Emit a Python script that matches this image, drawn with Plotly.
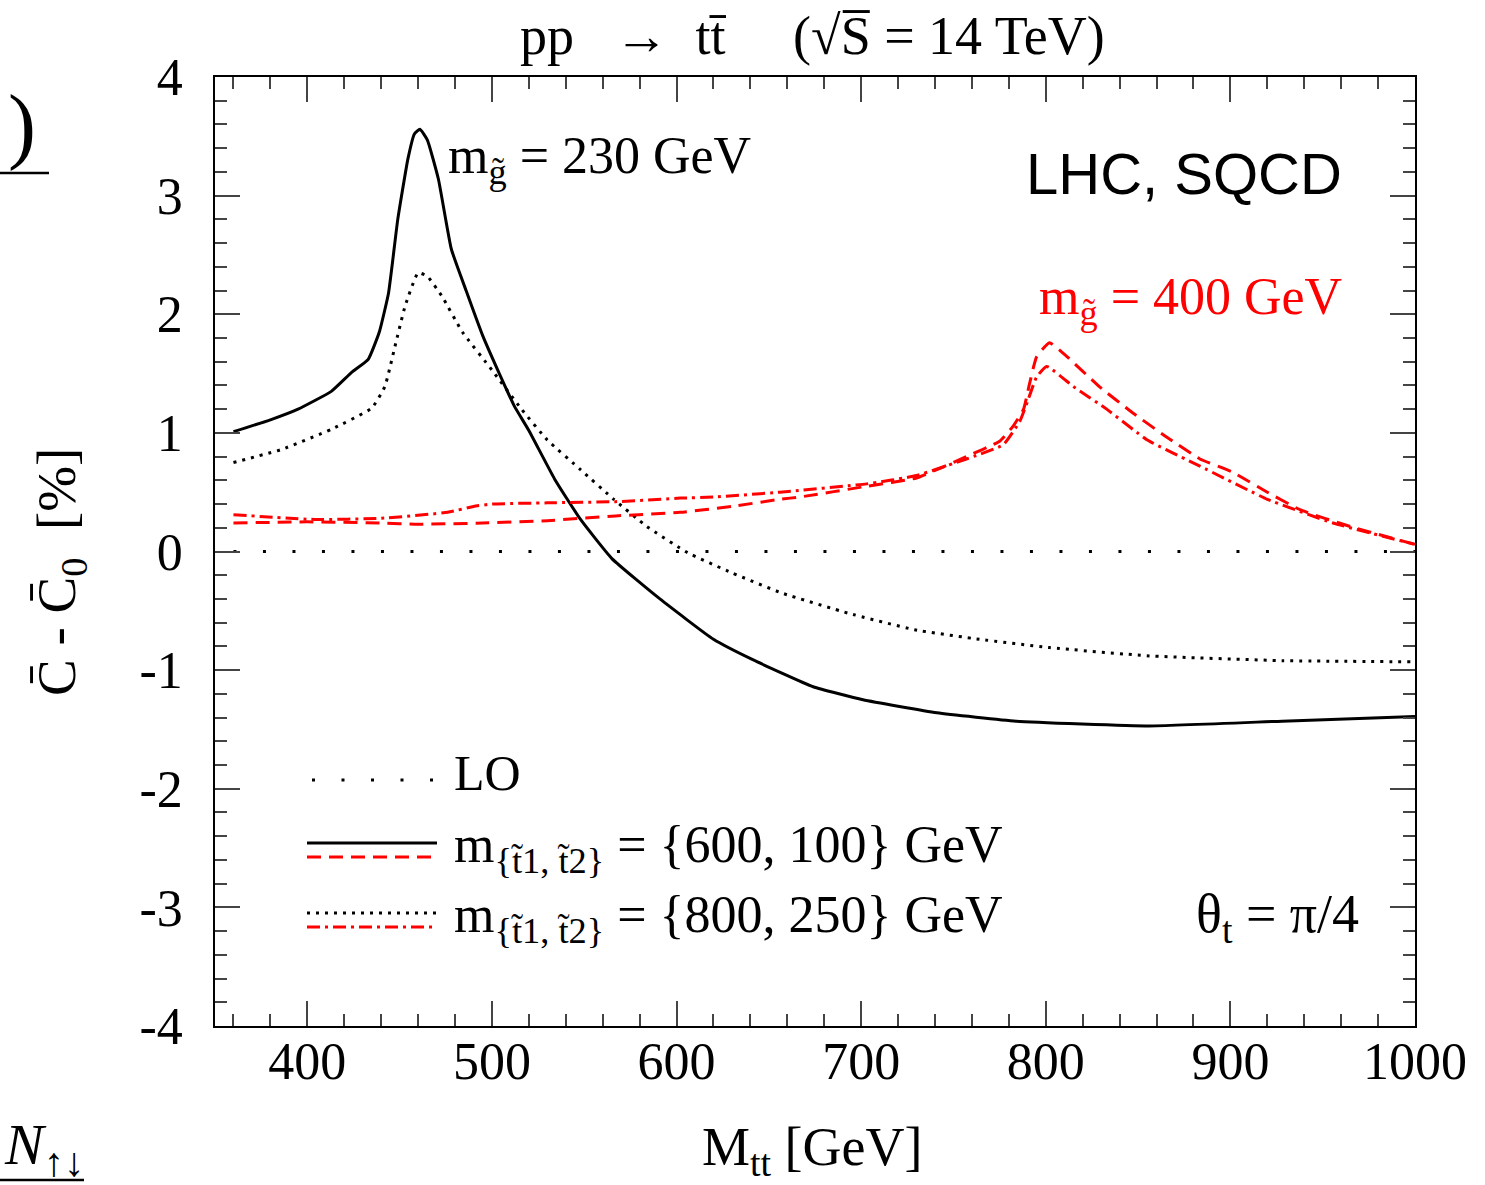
import plotly.graph_objects as go

# ---------------- data ----------------
# LO reference line
lo_x = [360, 1000]
lo_y = [0.0, 0.0]

# m_gluino = 230 GeV, m_stop = {600,100} GeV  (black solid)
g230_a_x = [360, 380, 395, 413, 424, 433, 439, 444, 449, 454.5, 458, 461, 465, 471, 478, 486, 495,
            504, 512, 520, 534, 548, 565, 591, 620, 641, 674, 701, 741, 784, 856, 928, 1000]
g230_a_y = [1.01, 1.11, 1.20, 1.35, 1.51, 1.62, 1.85, 2.18, 2.80, 3.31, 3.52, 3.56, 3.47, 3.14, 2.55, 2.20, 1.82,
            1.50, 1.23, 1.02, 0.61, 0.27, -0.06, -0.40, -0.74, -0.91, -1.14, -1.25, -1.36, -1.43, -1.47, -1.43, -1.39]

# m_gluino = 230 GeV, m_stop = {800,250} GeV  (black dotted)
g230_b_x = [360, 386, 413, 435, 442, 447.5, 453, 460, 465, 473, 484, 500, 516, 530, 548, 566, 584, 606,
            630, 657, 693, 729, 764, 802, 856, 928, 1000]
g230_b_y = [0.75, 0.86, 1.03, 1.21, 1.39, 1.73, 2.07, 2.35, 2.32, 2.15, 1.85, 1.53, 1.20, 0.94, 0.69, 0.44, 0.21, -0.01,
            -0.18, -0.35, -0.52, -0.66, -0.74, -0.81, -0.88, -0.92, -0.93]

# m_gluino = 400 GeV, m_stop = {600,100} GeV  (red dashed)
g400_a_x = [360, 400, 440, 460, 495, 530, 567, 602, 630, 656, 667, 703, 730, 757, 775, 782, 788, 791, 795,
            802, 811, 829, 847, 865, 883.5, 901, 920, 938, 965, 1000]
g400_a_y = [0.24, 0.25, 0.24, 0.23, 0.24, 0.26, 0.30, 0.33, 0.38, 0.44, 0.46, 0.55, 0.62, 0.80, 0.93, 1.05, 1.20, 1.40, 1.64,
            1.76, 1.65, 1.39, 1.17, 0.97, 0.78, 0.67, 0.50, 0.35, 0.21, 0.06]

# m_gluino = 400 GeV, m_stop = {800,250} GeV  (red dash-dot)
g400_b_x = [360, 404, 440, 476, 490, 500, 530, 567, 602, 621, 656, 703, 730, 757, 777, 786, 790, 795, 800.5,
            815, 833, 855, 883.5, 920, 955.6, 1000]
g400_b_y = [0.31, 0.27, 0.28, 0.33, 0.38, 0.40, 0.41, 0.42, 0.45, 0.46, 0.50, 0.57, 0.64, 0.78, 0.90, 1.10, 1.26, 1.47, 1.56,
            1.39, 1.20, 0.94, 0.72, 0.44, 0.24, 0.06]

x_tickvals = [400, 500, 600, 700, 800, 900, 1000]
x_ticktext = ["400", "500", "600", "700", "800", "900", "1000"]
y_tickvals = [-4, -3, -2, -1, 0, 1, 2, 3, 4]
y_ticktext = ["-4", "-3", "-2", "-1", "0", "1", "2", "3", "4"]

# ---------------- styling ----------------
SERIF = "Liberation Serif"
SANS = "Liberation Sans"
RED = "#ff0000"
W = 3

fig = go.Figure()
fig.add_trace(go.Scatter(x=lo_x, y=lo_y, mode="lines",
                         line=dict(color="black", width=3, dash="3px,26.5px")))
fig.add_trace(go.Scatter(x=g230_b_x, y=g230_b_y, mode="lines",
                         line=dict(color="black", width=W, dash="3px,6px", shape="spline", smoothing=0.4)))
fig.add_trace(go.Scatter(x=g230_a_x, y=g230_a_y, mode="lines",
                         line=dict(color="black", width=W, shape="spline", smoothing=0.4)))
fig.add_trace(go.Scatter(x=g400_a_x, y=g400_a_y, mode="lines",
                         line=dict(color=RED, width=W, dash="14px,8px", shape="spline", smoothing=0.4)))
fig.add_trace(go.Scatter(x=g400_b_x, y=g400_b_y, mode="lines",
                         line=dict(color=RED, width=W, dash="13px,5px,3px,5px", shape="spline", smoothing=0.4)))

axis_common = dict(
    ticks="inside", ticklen=25, tickwidth=1.5, tickcolor="#444",
    showline=True, linecolor="black", linewidth=1.5, mirror="allticks",
    showgrid=False, zeroline=False,
    tickfont=dict(family=SERIF, size=52, color="black"),
)

fig.update_layout(
    width=1485, height=1185,
    margin=dict(l=215, r=70, t=77, b=159),
    paper_bgcolor="white", plot_bgcolor="white",
    showlegend=False,
    xaxis=dict(range=[350, 1000], tickmode="array", tickvals=x_tickvals, ticktext=x_ticktext,
               ticklabelstandoff=-11,
               minor=dict(dtick=20, tick0=0, ticks="inside", ticklen=12, tickwidth=1.5, tickcolor="#444"),
               **axis_common),
    yaxis=dict(range=[-4, 4], tickmode="array", tickvals=y_tickvals, ticktext=y_ticktext,
               ticklabelstandoff=20,
               minor=dict(dtick=0.2, tick0=0, ticks="inside", ticklen=12, tickwidth=1.5, tickcolor="#444"),
               **axis_common),
)

def px2x(px):
    return (px - 215) / 1200.0

def px2y(py):
    return (1026 - py) / 949.0

ann = []
def text(s, x, y, size=50, color="black", family=SERIF, xanchor="left", yanchor="middle", angle=0):
    ann.append(dict(text=s, x=px2x(x), y=px2y(y), xref="paper", yref="paper",
                    xanchor=xanchor, yanchor=yanchor, showarrow=False, textangle=angle,
                    font=dict(family=family, size=size, color=color)))

# title
text("pp   \u2192  tt\u0304     (\u221aS\u0305 = 14 TeV)", 812, 36, size=54, xanchor="center")
# axis titles
text("M<sub>tt</sub> [GeV]", 812, 1150, size=54, xanchor="center")
text("C\u0304 - C\u0304<sub>0</sub>  [%]", 60, 572, size=55, xanchor="center", angle=-90)
# in-plot labels
text("m<sub>g\u0303</sub> = 230 GeV", 446, 159, size=52)
text("m<sub>g\u0303</sub> = 400 GeV", 1037, 300, size=52, color=RED)
text("LHC, SQCD", 1024, 173, size=58, family=SANS)
text("\u03b8<sub>t</sub> = \u03c0/4", 1194, 917, size=54)
# legend text
text("LO", 452, 773, size=50)
text("m<sub>{t\u03031, t\u03032}</sub> = {600, 100} GeV", 452, 848, size=52)
text("m<sub>{t\u03031, t\u03032}</sub> = {800, 250} GeV", 452, 918, size=52)
# cropped fragments at the left edge
text(")", 6, 125, size=84)
text("<i>N</i><sub>\u2191\u2193</sub>", 2, 1148, size=58)

shapes = []
def seg(x0, x1, y, color, dash, width=3):
    shapes.append(dict(type="line", xref="paper", yref="paper",
                       x0=px2x(x0), x1=px2x(x1), y0=px2y(y), y1=px2y(y),
                       line=dict(color=color, width=width, dash=dash)))

seg(312, 437, 780, "black", "3px,26.5px")
seg(307, 437, 843, "black", "solid")
seg(307, 437, 857, RED, "14px,8px")
seg(307, 437, 913, "black", "3px,6px")
seg(307, 437, 927, RED, "13px,5px,3px,5px")
# underline fragments
seg(0, 49, 173, "black", "solid", width=2.5)
seg(0, 84, 1180, "black", "solid", width=2.5)

fig.update_layout(annotations=ann, shapes=shapes)

fig.write_html("out.html")
